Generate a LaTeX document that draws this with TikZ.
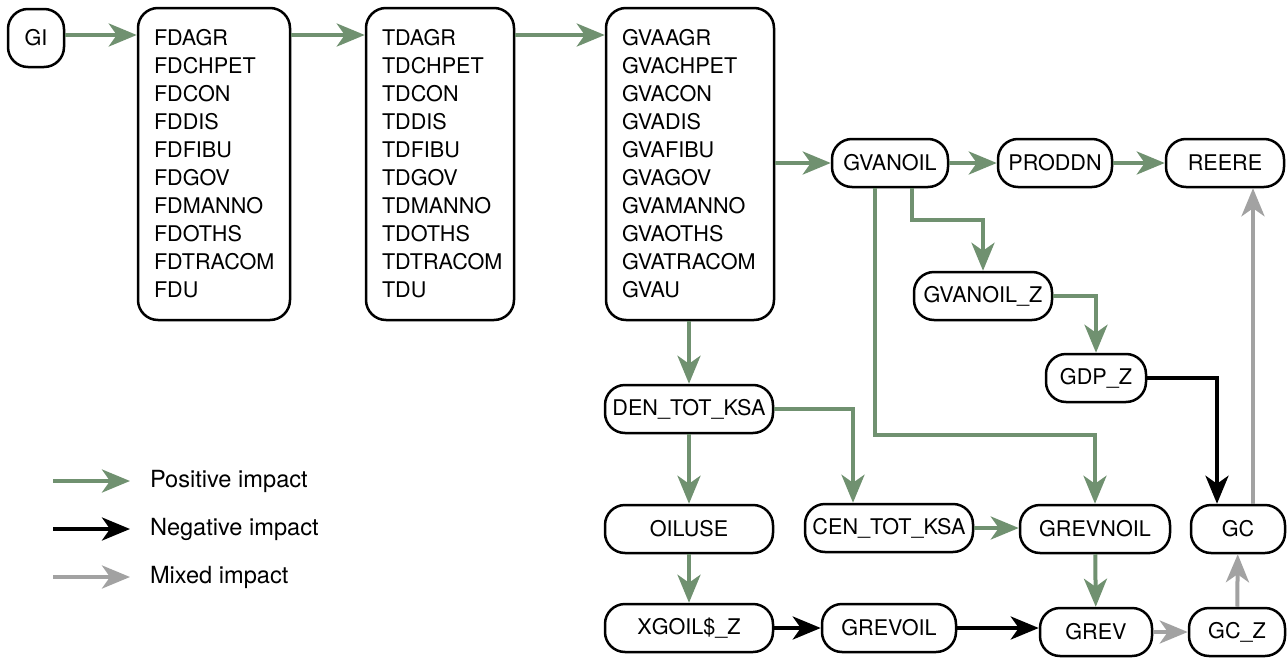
\documentclass[tikz,border=0pt]{standalone}
\usepackage{fontspec}
\setmainfont{TeX Gyre Heros}
\usepackage{tikz}
\usetikzlibrary{arrows.meta}
\usetikzlibrary{positioning}
\definecolor{posgreen}{RGB}{112,145,112}
\definecolor{mixgray}{RGB}{162,162,162}

\tikzset{
    var/.style={draw, line width=1.25pt, rounded corners=10pt, minimum height=24pt,
        inner sep=2pt, font=\fontsize{10.8}{14}\selectfont},
    group/.style={var, align=left, inner xsep=8pt, minimum height=156pt},
    link/.style={line width=2pt, -{Stealth[length=14pt,width=11.5pt,inset=4pt]}},
    posarrow/.style={link, draw=posgreen},
    negarrow/.style={link, draw=black},
    mixarrow/.style={link, draw=mixgray},
    legendtext/.style={anchor=west, inner sep=0pt, font=\fontsize{11.8}{14}\selectfont}
}

\begin{document}
\begin{tikzpicture}[x=0.5pt, y=-0.5pt]

    \useasboundingbox (0,0) rectangle (1287,659);

    % first row
    \node[var, minimum width=28pt, minimum height=29pt] (gi) at (36,38) {GI};
    \node[group, text width=60pt] (fd) at (214,164) {FDAGR\\FDCHPET\\FDCON\\FDDIS\\FDFIBU\\FDGOV\\FDMANNO\\FDOTHS\\FDTRACOM\\FDU};
    \node[group, text width=58pt] (td) at (440,164) {TDAGR\\TDCHPET\\TDCON\\TDDIS\\TDFIBU\\TDGOV\\TDMANNO\\TDOTHS\\TDTRACOM\\TDU};
    \node[group, text width=68pt] (gva) at (690,164) {GVAAGR\\GVACHPET\\GVACON\\GVADIS\\GVAFIBU\\GVAGOV\\GVAMANNO\\GVAOTHS\\GVATRACOM\\GVAU};

    \node[var, minimum width=58pt] (gvanoil) at (890,163) {GVANOIL};
    \node[var, minimum width=57pt] (proddn) at (1055,163) {PRODDN};
    \node[var, minimum width=59pt] (reere) at (1225,163) {REERE};
    \node[var, minimum width=69pt] (gvanoilz) at (983,296) {GVANOIL\_Z};
    \node[var, minimum width=50pt] (gdpz) at (1096,378) {GDP\_Z};

    \node[var, minimum width=84pt] (den) at (689,409) {DEN\_TOT\_KSA};
    \node[var, minimum width=84pt] (oiluse) at (689,529) {OILUSE};
    \node[var, minimum width=84pt] (cen) at (889,528) {CEN\_TOT\_KSA};
    \node[var, minimum width=75pt] (grevnoil) at (1095,529) {GREVNOIL};
    \node[var, minimum width=47pt] (gc) at (1238,529) {GC};

    \node[var, minimum width=84pt] (xgoil) at (689,628) {XGOIL\$\_Z};
    \node[var, minimum width=67pt] (grevoil) at (889,628) {GREVOIL};
    \node[var, minimum width=56pt] (grev) at (1096,632) {GREV};
    \node[var, minimum width=48pt] (gcz) at (1237,632) {GC\_Z};

    % links
    \draw[posarrow] (gi.east |- 0,35) -- (fd.west |- 0,35);
    \draw[posarrow] (fd.east |- 0,35) -- (td.west |- 0,35);
    \draw[posarrow] (td.east |- 0,35) -- (gva.west |- 0,35);
    \draw[posarrow] (gva.east |- gvanoil.west) -- (gvanoil.west);
    \draw[posarrow] (gvanoil) -- (proddn);
    \draw[posarrow] (proddn) -- (reere);
    \draw[posarrow] ([xshift=11pt]gvanoil.south) -- ++(0,32) -| (gvanoilz.north);
    \draw[posarrow] ([xshift=-7.5pt]gvanoil.south) -- ++(0,247) -| (grevnoil.north);
    \draw[posarrow] (gvanoilz.east) -| (gdpz.north);
    \draw[negarrow] (gdpz.east) -| ([xshift=-10.5pt]gc.north);
    \draw[mixarrow] ([xshift=7.5pt]gc.north) -- ([xshift=7.5pt]gc.north |- reere.south);

    \draw[posarrow] (gva.south -| den.north) -- (den.north);
    \draw[posarrow] (den.east) -| ([xshift=-18pt]cen.north);
    \draw[posarrow] (den) -- (oiluse);
    \draw[posarrow] (oiluse) -- (xgoil);
    \draw[posarrow] (cen) -- (grevnoil.west |- cen.east);
    \draw[posarrow] (grevnoil) -- (grev);
    \draw[negarrow] (xgoil) -- (grevoil);
    \draw[negarrow] (grevoil.east) -- (grev.west |- grevoil.east);
    \draw[mixarrow] (grev) -- (gcz);
    \draw[mixarrow] (gcz) -- (gc);

    % legend
    \coordinate (lpos) at (53,481);
    \coordinate (lneg) at (53,529);
    \coordinate (lmix) at (53,577);
    \draw[posarrow] (lpos) -- ++(77,0) node[legendtext, xshift=9pt] {Positive impact};
    \draw[negarrow] (lneg) -- ++(77,0) node[legendtext, xshift=9pt] {Negative impact};
    \draw[mixarrow] (lmix) -- ++(77,0) node[legendtext, xshift=9pt] {Mixed impact};

\end{tikzpicture}
\end{document}
